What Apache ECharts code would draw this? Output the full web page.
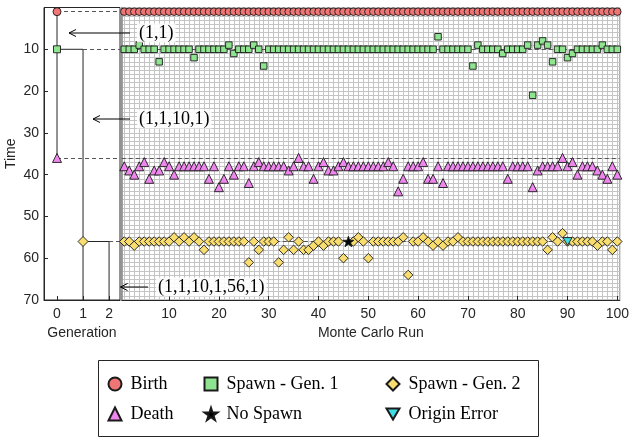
<!DOCTYPE html>
<html><head><meta charset="utf-8">
<script src="https://cdn.jsdelivr.net/npm/echarts@6/dist/echarts.min.js"></script>
<style>html,body{margin:0;padding:0;background:#fff}#c{width:632px;height:441px}</style>
</head><body><div id="c"></div>
<script>
// ---------- data ----------
const runs = [1,2,3,4,5,6,7,8,9,10,11,12,13,14,15,16,17,18,19,20,21,22,23,24,25,26,27,28,29,30,31,32,33,34,35,36,37,38,39,40,41,42,43,44,45,46,47,48,49,50,51,52,53,54,55,56,57,58,59,60,61,62,63,64,65,66,67,68,69,70,71,72,73,74,75,76,77,78,79,80,81,82,83,84,85,86,87,88,89,90,91,92,93,94,95,96,97,98,99,100];
const birthTime = [1,1,1,1,1,1,1,1,1,1, 1,1,1,1,1,1,1,1,1,1, 1,1,1,1,1,1,1,1,1,1, 1,1,1,1,1,1,1,1,1,1, 1,1,1,1,1,1,1,1,1,1, 1,1,1,1,1,1,1,1,1,1, 1,1,1,1,1,1,1,1,1,1, 1,1,1,1,1,1,1,1,1,1, 1,1,1,1,1,1,1,1,1,1, 1,1,1,1,1,1,1,1,1,1];
const spawnGen1Time = [10,10,10,9,10,10,10,13,10,10, 10,10,10,10,12,10,10,10,10,10, 10,9,11,10,10,10,9,10,14,10, 10,10,10,10,10,10,10,10,10,10, 10,10,10,10,10,10,10,10,10,10, 10,10,10,10,10,10,10,10,10,10, 10,10,10,7,10,10,10,10,10,10, 14,9,10,10,10,10,11,10,10,10, 10,9,21,9,8,9,13,10,10,12, 11,10,10,10,10,10,9,10,10,10];
const deathTime = [38,39,40,38,37,41,39,39,37,38, 40,38,38,38,38,38,38,41,38,43, 41,38,40,38,38,42,38,37,38,38, 38,38,38,39,38,36,38,38,41,38, 37,39,39,38,37,38,38,38,38,38, 38,38,38,37,38,44,41,38,38,38, 37,41,41,38,42,38,38,38,38,38, 38,38,38,38,38,38,38,41,38,38, 38,38,43,39,38,38,38,38,36,38, 37,40,38,38,38,39,40,41,38,40];
const spawnGen2Time = [56,56,57,56,56,56,56,56,56,56, 55,56,55,56,55,56,58,56,56,56, 56,56,56,56,56,61,56,58,56,56, 56,61,58,55,58,56,58,58,57,56, 57,56,56,56,60,null,56,55,56,60, 56,56,56,56,56,56,55,64,56,56, 55,56,57,56,57,56,56,55,56,56, 56,56,56,56,56,56,56,56,56,56, 56,56,56,56,56,58,55,56,54,56, 56,56,56,56,56,57,56,56,58,56];
const noSpawnRun = [46];
const noSpawnTime = [56];
const originErrorRun = [90];
const originErrorTime = [56];
// origin particle lineage (left panel): birth, spawn gen1, death, spawn gen2
const lineageGen = [0, 0, 0, 1];
const lineageTime = [1, 10, 36, 56];
const dashStartGen = [0, 1, 0, 2];
const generationTicks = [0, 1, 2];
const runTicks = [10,20,30,40,50,60,70,80,90,100];
const annotationTexts = ['(1,1)', '(1,1,10,1)', '(1,1,10,1,56,1)'];

// ---------- chart ----------
const GEN_MIN = -0.5, GEN_MAX = 2.42, RUN_MIN = 0.5, RUN_MAX = 100.5, T_MIN = 0, T_MAX = 70;
const ink = '#262626';
const sans = 'Liberation Sans';
const serif = 'Liberation Serif';
const gridCol = '#c4c4c4';
const pair = (xs, ys) => xs.map((x, i) => [x, ys[i]]).filter(p => p[1] != null);
const STAR = 'path://M50,0 L61.2,34.5 L97.6,34.5 L68.2,55.9 L79.4,90.5 L50,69.1 L20.6,90.5 L31.8,55.9 L2.4,34.5 L38.8,34.5 Z';
const DOWNTRI = 'path://M0,0 L20,0 L10,17.3 Z';

const C = {
  birth: '#F07575', g1: '#8FE58F', death: '#EE86EE', g2: '#F9DD6E', err: '#3FDCE3'
};
function sc(name, symbol, size, color, idx, data, z) {
  return {
    type: 'scatter', name, symbol, symbolSize: size, symbolKeepAspect: true,
    xAxisIndex: idx, yAxisIndex: idx, data, z, animation: false,
    itemStyle: { color, borderColor: '#1a1a1a', borderWidth: 0.9, opacity: 1 },
    emphasis: { disabled: true }
  };
}
const dash = { color: '#555', width: 1, type: [4, 3] };

const pathOrigin = [[lineageGen[0], lineageTime[0]], [lineageGen[2], lineageTime[2]]];
const pathGen1 = [[lineageGen[1], lineageTime[1]], [lineageGen[3], lineageTime[1]], [lineageGen[3], T_MAX]];
const pathGen2 = [[lineageGen[3], lineageTime[3]], [generationTicks[2], lineageTime[3]], [generationTicks[2], T_MAX]];

const lineSeries = (data, extra) => Object.assign({
  type: 'line', xAxisIndex: 0, yAxisIndex: 0, data, symbol: 'none', silent: true, animation: false,
  lineStyle: { color: ink, width: 1 }, z: 2
}, extra || {});

const axisFont = { fontFamily: sans, fontSize: 14, color: ink };
const legendCommon = {
  orient: 'vertical', itemWidth: 13, itemHeight: 13, itemGap: 12, padding: 0, selectedMode: false,
  textStyle: { fontFamily: serif, fontSize: 18, lineHeight: 18, color: '#000', padding: [0, 0, 0, 4] }
};

const option = {
  backgroundColor: '#fff',
  animation: false,
  grid: [
    { left: 44, top: 7.5, width: 76, height: 292.5, show: true, borderColor: ink, borderWidth: 1, backgroundColor: '#fff' },
    { left: 121.8, top: 7.5, width: 500, height: 292.5, show: true, borderColor: '#8c8c8c', borderWidth: 1, backgroundColor: '#fff' }
  ],
  xAxis: [
    { gridIndex: 0, type: 'value', min: GEN_MIN, max: GEN_MAX,
      name: 'Generation', nameLocation: 'middle', nameGap: 25, nameTextStyle: axisFont,
      axisLine: { onZero: false, lineStyle: { color: ink } },
      axisTick: { inside: true, length: 4, customValues: generationTicks, lineStyle: { color: ink } },
      axisLabel: Object.assign({ customValues: generationTicks, margin: 7 }, axisFont),
      splitLine: { show: false } },
    { gridIndex: 1, type: 'value', min: RUN_MIN, max: RUN_MAX, splitNumber: 10,
      name: 'Monte Carlo Run', nameLocation: 'middle', nameGap: 25, nameTextStyle: axisFont,
      axisLine: { onZero: false, lineStyle: { color: ink } },
      axisTick: { inside: true, length: 4, customValues: runTicks, lineStyle: { color: ink } },
      axisLabel: Object.assign({ customValues: runTicks, margin: 7 }, axisFont),
      minorTick: { show: false, splitNumber: 10 },
      splitLine: { show: true, lineStyle: { color: gridCol, width: 1 } },
      minorSplitLine: { show: true, lineStyle: { color: gridCol, width: 1 } } }
  ],
  yAxis: [
    { gridIndex: 0, type: 'value', min: T_MIN, max: T_MAX, interval: 10, inverse: true,
      name: 'Time', nameLocation: 'middle', nameGap: 26, nameRotate: 90, nameTextStyle: axisFont,
      axisLine: { onZero: false, lineStyle: { color: ink } },
      axisTick: { inside: true, length: 4, lineStyle: { color: ink } },
      axisLabel: Object.assign({ margin: 5, formatter: v => (v === 0 ? '' : String(v)) }, axisFont),
      splitLine: { show: false } },
    { gridIndex: 1, type: 'value', min: T_MIN, max: T_MAX, interval: 10, inverse: true,
      axisLine: { onZero: false, lineStyle: { color: '#8c8c8c', width: 1.5 } },
      axisTick: { show: false }, axisLabel: { show: false },
      minorTick: { show: false, splitNumber: 10 },
      splitLine: { show: true, lineStyle: { color: gridCol, width: 1 } },
      minorSplitLine: { show: true, lineStyle: { color: gridCol, width: 1 } } }
  ],
  legend: [
    Object.assign({ left: 107.5, top: 375, data: ['Birth', 'Death'] }, legendCommon),
    Object.assign({ left: 203.5, top: 375, data: ['Spawn - Gen. 1', 'No Spawn'] }, legendCommon),
    Object.assign({ left: 385.5, top: 375, data: ['Spawn - Gen. 2', 'Origin Error'] }, legendCommon)
  ],
  series: [
    lineSeries(pathOrigin, {
      markLine: { silent: true, symbol: 'none', animation: false, label: { show: false }, lineStyle: dash,
        emphasis: { disabled: true },
        data: lineageTime.map((t, i) => [{ coord: [dashStartGen[i], t] }, { coord: [GEN_MAX, t] }]) }
    }),
    lineSeries(pathGen1),
    lineSeries(pathGen2),
    { type: 'line', xAxisIndex: 1, yAxisIndex: 1, data: [], silent: true, z: 1, animation: false,
      markLine: { silent: true, symbol: 'none', animation: false, label: { show: false }, lineStyle: dash,
        emphasis: { disabled: true },
        data: lineageTime.map(t => ({ yAxis: t })) } },
    sc('Birth', 'circle', 8, C.birth, 0, [[lineageGen[0], lineageTime[0]]], 5),
    sc('Spawn - Gen. 1', 'rect', 7, C.g1, 0, [[lineageGen[1], lineageTime[1]]], 5),
    sc('Death', 'triangle', 9, C.death, 0, [[lineageGen[2], lineageTime[2]]], 5),
    sc('Spawn - Gen. 2', 'diamond', 10, C.g2, 0, [[lineageGen[3], lineageTime[3]]], 5),
    sc('Birth', 'circle', 7.5, C.birth, 1, pair(runs, birthTime), 5),
    sc('Spawn - Gen. 1', 'rect', 6.5, C.g1, 1, pair(runs, spawnGen1Time), 6),
    sc('Death', 'triangle', 9, C.death, 1, pair(runs, deathTime), 7),
    sc('Spawn - Gen. 2', 'diamond', 9.5, C.g2, 1, pair(runs, spawnGen2Time), 8),
    sc('No Spawn', STAR, 11, '#000', 1, pair(noSpawnRun, noSpawnTime), 9),
    sc('Origin Error', DOWNTRI, 9, C.err, 1, pair(originErrorRun, originErrorTime), 10)
  ]
};

const chart = echarts.init(document.getElementById('c'), null, { renderer: 'canvas' });
chart.setOption(option);

function arrow(x1, x2, y) {
  return [
    { type: 'line', shape: { x1, y1: y, x2, y2: y }, style: { stroke: '#000', lineWidth: 1 }, z: 20, silent: true },
    { type: 'polyline', shape: { points: [[x2 + 7, y - 3.5], [x2, y], [x2 + 7, y + 3.5]] }, style: { stroke: '#000', lineWidth: 1, fill: null }, z: 20, silent: true }
  ];
}
function label(text, x, y) {
  return { type: 'text', x, y, z: 21, silent: true,
    style: { text, fontFamily: serif, fontSize: 18, fill: '#000', verticalAlign: 'middle', align: 'left',
      backgroundColor: 'rgba(255,255,255,0.88)', padding: [1, 2, 0, 2] } };
}
const g = [];
g.push(...arrow(130, 69, 33)); g.push(label(annotationTexts[0], 137, 33));
g.push(...arrow(130, 93, 119)); g.push(label(annotationTexts[1], 137, 119));
g.push(...arrow(148, 120.5, 287)); g.push(label(annotationTexts[2], 156, 287));
g.push({ type: 'rect', shape: { x: 98.5, y: 360.5, width: 440, height: 76 }, style: { stroke: ink, lineWidth: 1, fill: null }, z: 0, silent: true });
chart.setOption({ graphic: g });
</script></body></html>
